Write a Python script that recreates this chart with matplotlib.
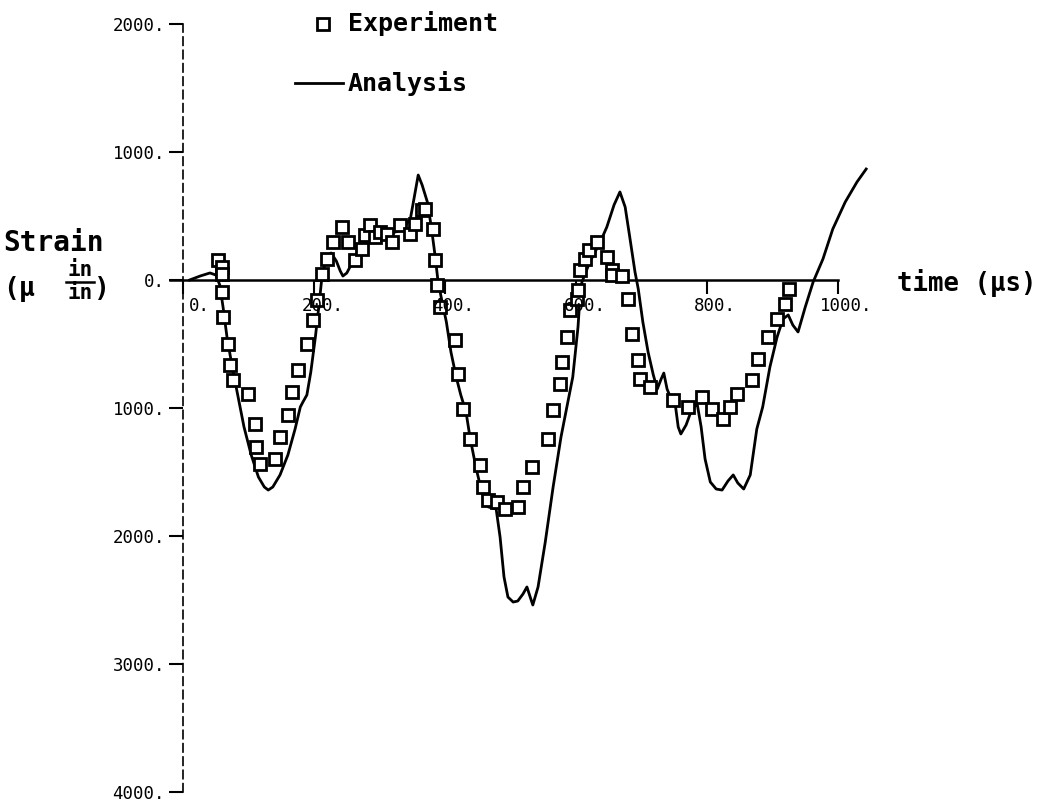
import matplotlib
matplotlib.use('Agg')
import matplotlib.pyplot as plt
from matplotlib.lines import Line2D

plt.rcParams['font.family'] = ['DejaVu Sans Mono', 'DejaVu Sans']

# analysis curve (time in microseconds, strain in micro in/in)
t_analysis = [10, 26, 41, 50, 56, 61, 67, 75, 84, 93, 104, 115, 124, 130, 137, 148,
              160, 171, 179, 183, 189, 195, 202, 208, 212, 218, 226, 234, 240, 244,
              250, 258, 267, 278, 290, 304, 319, 334, 347, 353, 359, 365, 373, 379,
              385, 389, 394, 402, 409, 417, 424, 432, 438, 447, 456, 466, 478, 484,
              490, 496, 504, 511, 519, 525, 530, 534, 542, 553, 565, 577, 586, 595,
              603, 606, 609, 621, 637, 647, 658, 667, 675, 682, 690, 695, 702, 710,
              718, 724, 730, 734, 739, 744, 751, 756, 760, 768, 777, 785, 791, 797,
              805, 814, 823, 832, 840, 847, 856, 866, 876, 885, 896, 907, 916, 924,
              931, 939, 950, 962, 977, 992, 1011, 1029, 1043]
strain_analysis = [0, 31, 55, 39, -39, -211, -445, -680, -914, -1148, -1367, -1539,
                   -1617, -1641, -1617, -1523, -1367, -1164, -992, -953, -898, -719,
                   -445, -172, 23, 164, 211, 148, 70, 31, 55, 133, 227, 289, 320, 352,
                   367, 391, 477, 648, 820, 742, 609, 414, 180, 0, -133, -328, -563,
                   -758, -898, -1031, -1227, -1461, -1656, -1773, -1789, -2008, -2320,
                   -2477, -2516, -2508, -2453, -2398, -2477, -2539, -2398, -2047,
                   -1617, -1227, -992, -758, -367, -133, -16, 141, 297, 414, 586, 688,
                   570, 336, 63, -70, -328, -563, -742, -852, -773, -727, -852, -914,
                   -953, -1148, -1203, -1133, -1008, -969, -1148, -1398, -1578, -1633,
                   -1641, -1570, -1523, -1586, -1633, -1523, -1164, -992, -680, -445,
                   -305, -273, -352, -406, -211, -16, 164, 398, 609, 766, 867]

# experiment points
t_exp = [53, 60, 60, 60, 61, 69, 72, 76, 99, 110, 111, 118, 140, 148, 160, 166, 176,
         189, 198, 205, 212, 220, 229, 243, 252, 263, 273, 278, 285, 293, 301, 311,
         319, 331, 347, 354, 365, 369, 382, 385, 388, 392, 415, 420, 427, 438, 453,
         458, 466, 479, 492, 511, 519, 533, 557, 565, 576, 579, 586, 591, 602, 603,
         606, 614, 620, 632, 647, 655, 655, 670, 679, 685, 695, 698, 713, 748, 771,
         792, 808, 824, 835, 846, 869, 878, 893, 907, 919, 925]
strain_exp = [156, 102, 47, -94, -289, -500, -664, -781, -891, -1125, -1305, -1438,
              -1398, -1227, -1055, -875, -703, -500, -313, -156, 47, 164, 297, 414,
              297, 156, 242, 352, 430, 336, 375, 359, 297, 430, 359, 438, 547, 555,
              398, 156, -39, -211, -469, -734, -1008, -1242, -1445, -1617, -1719,
              -1734, -1789, -1773, -1617, -1461, -1242, -1016, -813, -641, -445,
              -234, -148, -78, 78, 164, 234, 297, 180, 78, 39, 31, -148, -422, -625,
              -773, -836, -938, -992, -914, -1008, -1086, -992, -891, -781, -617,
              -445, -305, -188, -70]

x_ticks = [0, 200, 400, 600, 800, 1000]
x_tick_labels = ['0.', '200.', '400.', '600.', '800.', '1000.']
y_ticks = [2000, 1000, 0, -1000, -2000, -3000, -4000]
y_tick_labels = ['2000.', '1000.', '0.', '1000.', '2000.', '3000.', '4000.']

W, H = 1050, 805
fig = plt.figure(figsize=(W / 100, H / 100), dpi=100)
ax = fig.add_axes([170 / W, 1 - 792 / H, (903.5 - 170) / W, (792 - 24) / H])
ax.set_xlim(-20, 1100)
ax.set_ylim(-4000, 2000)

ax.plot(t_analysis, strain_analysis, color='black', lw=2, zorder=2, clip_on=False)
ax.plot(t_exp, strain_exp, ls='none', marker='s', ms=8, mfc='white', mec='black',
        mew=2, zorder=3, clip_on=False)

# axes drawn through the origin like the old plotter output
ax.spines['top'].set_visible(False)
ax.spines['right'].set_visible(False)
ax.spines['left'].set_position(('data', 0))
ax.spines['bottom'].set_position(('data', 0))
ax.spines['bottom'].set_bounds(-20, 1000)
ax.spines['bottom'].set_linewidth(1.8)
ax.spines['left'].set_linewidth(1.2)
ax.spines['left'].set_linestyle((0, (5, 3)))

ax.set_xticks(x_ticks)
ax.set_xticklabels([])
ax.set_yticks(y_ticks)
ax.set_yticklabels(y_tick_labels)
ax.tick_params(axis='x', direction='out', length=10, width=1.5)
ax.tick_params(axis='y', direction='out', length=10, width=1.5, pad=3, labelsize=12.5)

for i, (t, lab) in enumerate(zip(x_ticks, x_tick_labels)):
    dx = 12 if i == 0 else 6
    ax.annotate(lab, (t, 0), xytext=(dx, -12), textcoords='offset points',
                ha='center', va='top', fontsize=12.5)

# legend drawn by hand, above the plot
fig.add_artist(Line2D([323 / W], [1 - 24 / H], marker='s', ms=8, mfc='white',
                      mec='black', mew=2, ls='none'))
fig.text(348 / W, 1 - 24 / H, 'Experiment', fontsize=18, weight='bold', va='center')
fig.add_artist(Line2D([295 / W, 343 / W], [1 - 83 / H, 1 - 83 / H], color='black', lw=2))
fig.text(348 / W, 1 - 83 / H, 'Analysis', fontsize=18, weight='bold', va='center')

# axis labels
fig.text(3 / W, 1 - 243 / H, 'Strain', fontsize=20, weight='bold', va='center')
fig.text(3 / W, 1 - 289 / H, '(µ', fontsize=19, weight='bold', va='center')
fig.text(80 / W, 1 - 270 / H, 'in', fontsize=15, weight='bold', va='center', ha='center')
fig.add_artist(Line2D([66 / W, 94 / W], [1 - 282 / H, 1 - 282 / H], color='black', lw=1.8))
fig.text(80 / W, 1 - 293 / H, 'in', fontsize=15, weight='bold', va='center', ha='center')
fig.text(94 / W, 1 - 289 / H, ')', fontsize=19, weight='bold', va='center')
fig.text(897 / W, 1 - 283 / H, 'time (µs)', fontsize=18.5, weight='bold', va='center')

fig.savefig('out.png', dpi=100)
